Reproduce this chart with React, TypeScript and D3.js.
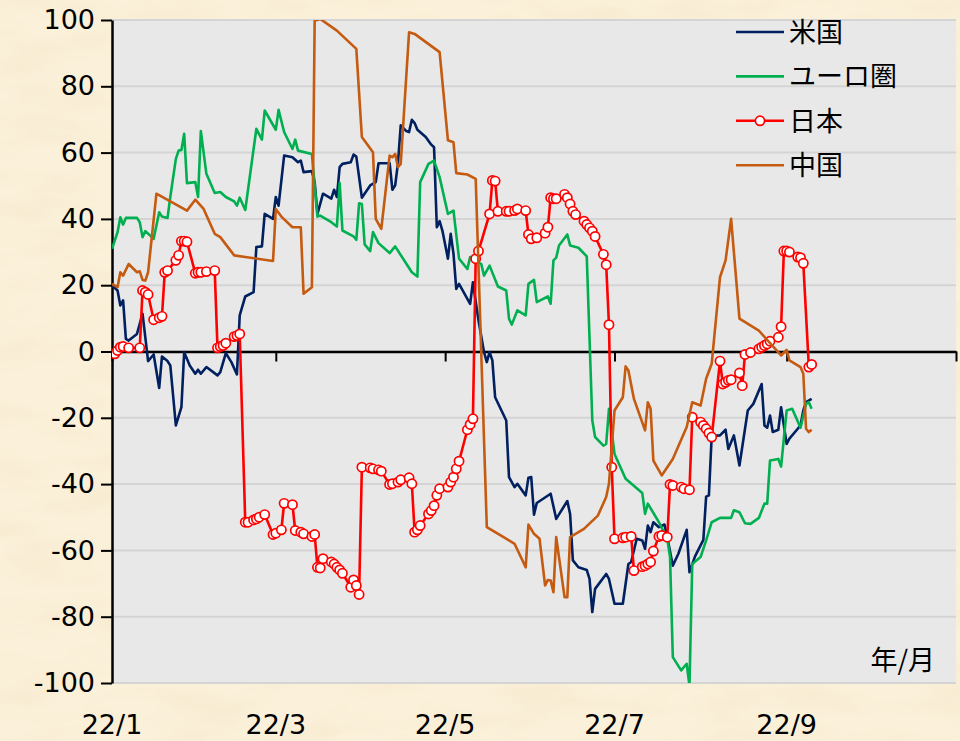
import React, { useEffect, useRef } from 'react';
import * as d3 from 'd3';

const width = 960;
const height = 741;
const margin = { top: 20, right: 4, bottom: 58, left: 112 };

const seriesNames = ['米国', 'ユーロ圏', '日本', '中国'];
const seriesColors = ['#002060', '#00b050', '#ff0000', '#c55a11'];

const yTicks = [-100, -80, -60, -40, -20, 0, 20, 40, 60, 80, 100];
// months (0 = Jan 2022) with an axis tick, and those with a label
const tickMonths = [0, 2, 4, 6, 8, 10];
const labelMonths = [0, 2, 4, 6, 8];
const axisUnit = '年/月';

// [days since 2022-01-01, index]
const usData: [number, number][] = [[0,19.9],[2,18.4],[3,13.9],[4,15.4],[5,3.8],[6,3.3],[9,5.3],[11,11.4],[13,-2.9],[15,-0.9],[17,-11.0],[18,-1.5],[20,-2.9],[21,-4.2],[23,-22.3],[25,-16.8],[26,-0.2],[28,-4.2],[30,-6.7],[31,-5.5],[32,-6.7],[34,-4.7],[38,-7.2],[39,-6.2],[41,-0.5],[43,-3.2],[45,-6.9],[46,10.9],[48,16.6],[51,17.9],[52,31.5],[54,31.7],[55,41.5],[58,40.0],[59,46.6],[60,44.0],[62,59.1],[65,58.6],[67,57.1],[68,57.6],[69,54.1],[72,54.4],[73,51.1],[74,41.5],[76,47.6],[79,46.1],[80,48.8],[81,46.6],[82,55.6],[83,56.6],[86,57.1],[87,59.4],[88,58.8],[90,46.4],[93,50.1],[95,51.1],[96,56.8],[100,56.8],[101,48.8],[102,50.1],[103,56.8],[104,68.2],[106,66.5],[107,66.2],[108,69.9],[109,68.9],[110,66.9],[113,64.7],[115,62.4],[116,61.6],[117,37.5],[118,39.3],[119,36.5],[121,28.0],[122,35.5],[123,29.5],[124,18.9],[125,20.4],[129,14.4],[130,20.9],[132,9.4],[134,-0.2],[135,-3.2],[136,-0.2],[137,-2.7],[138,-13.8],[142,-20.8],[143,-37.9],[145,-40.9],[146,-39.9],[149,-43.4],[150,-38.1],[151,-37.9],[152,-49.2],[153,-45.7],[158,-42.9],[160,-50.5],[164,-45.1],[165,-49.0],[166,-63.0],[168,-65.1],[171,-65.9],[172,-68.6],[173,-78.6],[174,-71.6],[178,-67.1],[179,-68.6],[181,-76.1],[184,-76.1],[186,-64.1],[187,-63.5],[189,-56.5],[191,-57.0],[192,-59.5],[193,-52.5],[194,-54.5],[195,-51.5],[197,-53.0],[199,-52.2],[200,-56.0],[202,-64.6],[204,-61.0],[207,-53.8],[208,-66.6],[210,-61.8],[213,-56.8],[214,-43.8],[215,-43.4],[216,-25.5],[219,-25.3],[221,-23.6],[222,-29.4],[224,-25.3],[226,-34.4],[229,-17.8],[231,-15.8],[234,-9.8],[235,-22.3],[236,-23.0],[237,-19.3],[238,-24.3],[240,-23.6],[241,-16.8],[242,-22.3],[243,-27.9],[244,-26.3],[247,-23.3],[248,-22.3],[249,-17.8],[250,-15.3],[252,-14.3]];

const euroData: [number, number][] = [[0,31.0],[2,36.0],[3,40.5],[4,38.3],[5,40.3],[9,40.3],[10,39.0],[11,34.5],[12,36.3],[15,34.0],[17,42.0],[18,40.7],[20,40.3],[21,46.6],[23,58.1],[24,60.6],[25,60.8],[26,65.7],[27,50.8],[30,51.1],[31,46.6],[32,66.5],[34,53.6],[37,47.8],[39,48.1],[41,46.6],[44,45.3],[45,44.0],[46,46.4],[48,42.7],[52,67.2],[54,63.9],[55,72.7],[59,66.9],[60,72.9],[62,66.2],[65,61.1],[66,63.9],[67,60.6],[72,59.6],[74,40.7],[75,41.0],[79,39.0],[81,37.7],[82,50.8],[83,36.5],[87,34.7],[88,33.7],[89,44.7],[90,44.5],[91,32.3],[93,30.3],[94,36.0],[96,32.7],[100,29.7],[102,31.7],[108,23.9],[110,22.6],[111,51.1],[114,56.6],[116,57.6],[118,52.6],[121,41.5],[123,42.5],[125,28.0],[128,24.9],[129,28.5],[133,26.4],[134,22.9],[136,25.9],[139,19.6],[142,18.4],[143,9.9],[144,8.1],[146,12.4],[149,10.9],[150,20.4],[152,21.6],[153,14.9],[157,16.6],[158,14.4],[159,27.5],[160,28.3],[161,32.0],[164,35.3],[165,32.0],[168,31.3],[171,28.7],[173,-20.8],[174,-25.8],[177,-28.4],[178,-27.9],[179,-17.3],[181,-30.9],[185,-38.4],[191,-42.7],[192,-49.0],[193,-45.9],[197,-51.5],[200,-56.5],[201,-62.0],[202,-92.2],[205,-96.2],[207,-94.2],[208,-100.8],[209,-64.1],[212,-62.0],[214,-57.0],[216,-51.5],[219,-50.2],[223,-50.2],[224,-47.9],[226,-48.5],[228,-51.8],[230,-52.0],[233,-50.2],[235,-45.9],[236,-45.9],[237,-32.9],[240,-32.4],[241,-34.7],[243,-17.8],[245,-17.3],[248,-23.0],[250,-15.8],[251,-15.3],[252,-17.3]];

const japanData: [number, number][] = [[1,-0.7],[2,0.3],[3,1.3],[4,1.5],[6,1.1],[10,1.1],[11,18.4],[12,17.9],[13,17.2],[15,9.6],[17,10.2],[18,10.6],[19,23.9],[20,24.4],[23,27.5],[24,29.0],[25,33.3],[26,33.3],[27,33.1],[30,23.6],[31,23.9],[32,23.9],[34,24.1],[37,24.4],[38,1.1],[39,1.5],[40,1.8],[41,2.5],[44,4.5],[45,4.8],[46,5.3],[48,-51.5],[49,-51.5],[51,-50.8],[52,-50.5],[53,-50.0],[55,-49.2],[58,-55.2],[59,-54.8],[61,-53.8],[62,-45.8],[65,-46.2],[66,-54.0],[68,-54.5],[69,-55.0],[72,-55.8],[73,-55.2],[74,-65.1],[75,-65.3],[76,-62.5],[79,-63.5],[80,-64.1],[81,-65.1],[82,-65.9],[83,-66.9],[86,-71.1],[87,-68.9],[88,-70.6],[89,-73.3],[90,-34.9],[93,-35.1],[94,-35.4],[96,-35.7],[97,-36.1],[100,-40.1],[101,-39.9],[103,-39.4],[104,-38.7],[107,-38.1],[108,-39.9],[109,-54.5],[110,-53.8],[111,-52.5],[114,-49.0],[115,-48.0],[116,-46.5],[117,-43.4],[118,-41.4],[121,-40.9],[122,-39.4],[123,-37.9],[124,-35.4],[125,-33.1],[128,-23.6],[129,-22.0],[130,-20.3],[131,28.0],[132,30.3],[136,41.5],[137,51.6],[138,51.4],[139,42.3],[142,42.3],[143,42.3],[145,42.5],[146,43.0],[149,42.5],[150,35.3],[151,34.0],[153,34.3],[156,35.7],[157,37.5],[158,46.4],[159,46.1],[160,46.1],[163,47.4],[164,46.4],[165,44.5],[166,42.3],[167,41.3],[170,39.3],[171,38.3],[172,37.3],[173,36.3],[174,34.7],[177,29.3],[178,26.2],[179,8.1],[180,-34.9],[181,-56.5],[184,-56.2],[185,-56.0],[187,-55.8],[188,-66.1],[191,-64.9],[192,-64.6],[193,-64.1],[194,-63.5],[195,-60.2],[197,-55.8],[198,-55.5],[200,-56.0],[201,-40.1],[202,-40.4],[205,-40.9],[206,-41.4],[208,-41.7],[209,-19.8],[212,-21.3],[213,-22.3],[214,-23.3],[215,-24.6],[216,-25.8],[219,-2.9],[220,-9.8],[221,-9.3],[222,-8.7],[223,-8.5],[226,-6.5],[227,-10.3],[228,-0.9],[230,-0.3],[233,0.8],[234,1.3],[235,1.8],[236,2.3],[237,3.1],[240,4.3],[241,7.5],[242,30.3],[243,30.3],[244,30.0],[247,28.5],[248,28.3],[249,26.6],[251,-4.7],[252,-3.9]];

const chinaData: [number, number][] = [[0,20.4],[2,19.4],[3,23.9],[4,22.9],[6,26.4],[9,23.9],[10,24.2],[11,21.6],[12,21.4],[13,23.9],[16,47.6],[27,42.5],[30,45.8],[33,43.0],[37,35.5],[39,34.5],[44,29.0],[48,28.5],[58,27.3],[59,43.0],[61,40.7],[65,37.5],[68,37.5],[69,17.4],[72,19.4],[73,99.8],[75,100.3],[81,96.8],[88,91.3],[90,64.7],[94,60.1],[95,40.0],[97,37.0],[100,59.1],[101,58.6],[102,59.6],[103,55.6],[104,56.6],[107,96.3],[109,95.8],[118,90.3],[121,63.7],[123,63.1],[124,53.8],[128,53.4],[131,52.1],[135,-53.0],[140,-55.5],[145,-58.0],[149,-65.1],[150,-52.2],[152,-55.0],[154,-56.5],[156,-70.6],[157,-68.9],[158,-69.1],[159,-72.6],[160,-56.0],[163,-74.1],[164,-74.1],[165,-56.0],[170,-53.5],[175,-49.5],[178,-43.9],[179,-39.9],[181,-17.8],[184,-13.8],[185,-4.5],[186,-5.7],[188,-14.3],[192,-23.8],[193,-15.3],[194,-17.3],[195,-32.9],[198,-37.4],[202,-32.4],[207,-22.8],[209,-15.3],[212,-16.3],[214,-8.2],[216,-3.7],[219,22.4],[221,27.5],[223,40.0],[226,9.9],[233,6.3],[241,-1.2],[243,0.5],[244,-2.7],[248,-4.7],[249,-6.7],[250,-23.3],[251,-24.3],[252,-23.6]];

const allSeries = [usData, euroData, japanData, chinaData];
const markerSeries = 2; // only 日本 carries markers

const numFont = '"DejaVu Sans", Verdana, sans-serif';
const cjkFont = '"Noto Sans CJK JP", sans-serif';

const start = new Date(2022, 0, 1);
const dayToDate = (d: number) => d3.timeDay.offset(start, d);

export default function App() {
  const ref = useRef<SVGSVGElement>(null);

  useEffect(() => {
    const svg = d3.select(ref.current);
    svg.selectAll('*').remove();

    const x = d3.scaleTime()
      .domain([start, new Date(2022, 10, 1)])
      .range([margin.left, width - margin.right]);
    const y = d3.scaleLinear()
      .domain([-100, 100])
      .range([height - margin.bottom, margin.top]);

    // parchment background
    const defs = svg.append('defs');
    const f = defs.append('filter').attr('id', 'paper')
      .attr('x', 0).attr('y', 0).attr('width', '100%').attr('height', '100%');
    f.append('feTurbulence').attr('type', 'fractalNoise')
      .attr('baseFrequency', '0.012 0.035').attr('numOctaves', 4).attr('seed', 7);
    f.append('feColorMatrix').attr('type', 'matrix')
      .attr('values', '0 0 0 0 0.92  0 0 0 0 0.82  0 0 0 0 0.62  1.3 0 0 0 -0.5');
    defs.append('clipPath').attr('id', 'plot')
      .append('rect')
      .attr('x', margin.left).attr('y', margin.top)
      .attr('width', width - margin.right - margin.left)
      .attr('height', height - margin.bottom - margin.top);

    svg.append('rect').attr('width', width).attr('height', height).attr('fill', '#fbf0d9');
    svg.append('rect').attr('width', width).attr('height', height).attr('filter', 'url(#paper)');

    svg.append('rect')
      .attr('x', margin.left).attr('y', margin.top)
      .attr('width', width - margin.right - margin.left)
      .attr('height', height - margin.bottom - margin.top)
      .attr('fill', '#e8e8e8');

    svg.append('g').selectAll('line')
      .data(yTicks)
      .enter().append('line')
      .attr('x1', margin.left).attr('x2', width - margin.right)
      .attr('y1', d => y(d)).attr('y2', d => y(d))
      .attr('stroke', '#d4d4d4').attr('stroke-width', 2);

    // y axis (plain hyphen for negatives, as in the original)
    const yAxis = svg.append('g')
      .attr('transform', 'translate(' + margin.left + ',0)')
      .call(d3.axisLeft(y).tickValues(yTicks)
        .tickFormat(d => String(d))
        .tickSize(11).tickSizeOuter(0).tickPadding(6));
    yAxis.select('.domain').attr('stroke', '#000').attr('stroke-width', 2.5);
    yAxis.selectAll('.tick line').attr('stroke', '#000').attr('stroke-width', 2);
    yAxis.selectAll('.tick text')
      .attr('fill', '#000')
      .style('font-family', numFont).style('font-size', '27px');

    // x axis on the zero line
    const xAxis = svg.append('g')
      .attr('transform', 'translate(0,' + y(0) + ')')
      .call(d3.axisBottom(x)
        .tickValues(tickMonths.map(m => new Date(2022, m, 1)))
        .tickFormat(() => '')
        .tickSize(10).tickSizeOuter(0));
    xAxis.select('.domain').attr('stroke', '#000').attr('stroke-width', 2.5);
    xAxis.selectAll('.tick line').attr('stroke', '#000').attr('stroke-width', 2);

    svg.append('g').selectAll('text')
      .data(labelMonths)
      .enter().append('text')
      .attr('x', m => x(new Date(2022, m, 1)))
      .attr('y', 734)
      .attr('text-anchor', 'middle')
      .style('font-family', numFont).style('font-size', '27px')
      .text(m => d3.timeFormat('%y/%-m')(new Date(2022, m, 1)));

    svg.append('text')
      .attr('x', 935).attr('y', 670)
      .attr('text-anchor', 'end')
      .style('font-family', cjkFont).style('font-size', '27px')
      .text(axisUnit);

    // series
    const line = d3.line<[number, number]>()
      .x(d => x(dayToDate(d[0])))
      .y(d => y(d[1]));
    const plot = svg.append('g').attr('clip-path', 'url(#plot)');
    allSeries.forEach((data, i) => {
      plot.append('path')
        .datum(data)
        .attr('d', line)
        .attr('fill', 'none')
        .attr('stroke', seriesColors[i])
        .attr('stroke-width', 2.6)
        .attr('stroke-linejoin', 'round');
      if (i === markerSeries) {
        plot.append('g').selectAll('circle')
          .data(data)
          .enter().append('circle')
          .attr('cx', d => x(dayToDate(d[0])))
          .attr('cy', d => y(d[1]))
          .attr('r', 4.6)
          .attr('fill', '#fff')
          .attr('stroke', seriesColors[i])
          .attr('stroke-width', 1.7);
      }
    });

    // legend
    const legend = svg.append('g').attr('transform', 'translate(736,32)');
    seriesNames.forEach((name, i) => {
      const g = legend.append('g').attr('transform', 'translate(0,' + i * 44.4 + ')');
      g.append('line').attr('x1', 0).attr('x2', 48)
        .attr('stroke', seriesColors[i]).attr('stroke-width', 2.6);
      if (i === markerSeries) {
        g.append('circle').attr('cx', 24).attr('r', 4.6)
          .attr('fill', '#fff').attr('stroke', seriesColors[i]).attr('stroke-width', 1.7);
      }
      g.append('text')
        .attr('x', 53).attr('dy', '0.36em')
        .style('font-family', cjkFont).style('font-size', '27px')
        .text(name);
    });
  }, []);

  return (
    <svg
      ref={ref}
      width={width}
      height={height}
      style={{ position: 'absolute', left: 0, top: 0 }}
    ></svg>
  );
}
